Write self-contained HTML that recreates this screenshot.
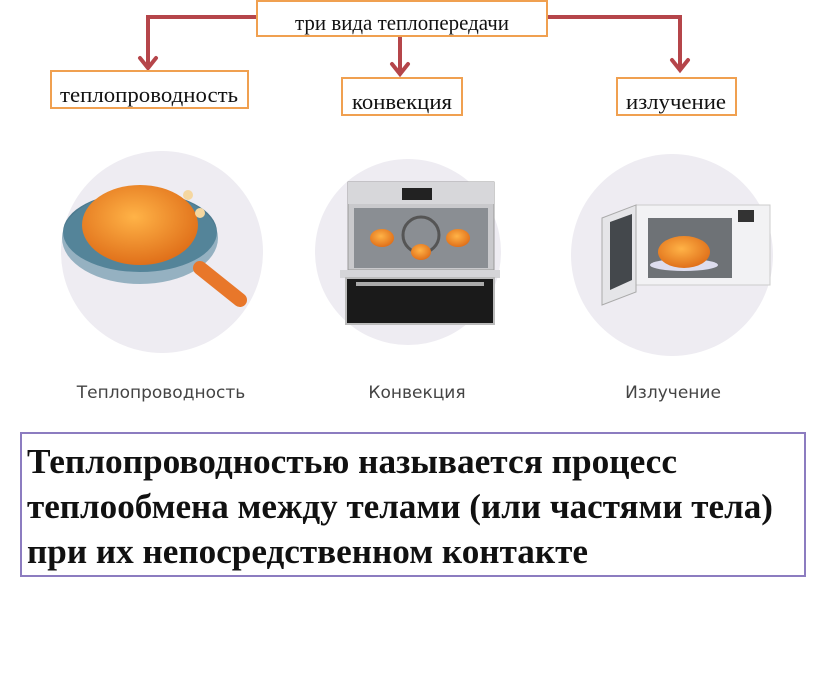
<!DOCTYPE html>
<html><head><meta charset="utf-8"><style>
html,body{margin:0;padding:0;background:#fff;}
svg{display:block;}
</style></head><body>
<svg width="816" height="683" viewBox="0 0 816 683" xmlns="http://www.w3.org/2000/svg">
<defs>
<radialGradient id="ck" cx="45%" cy="40%" r="60%"><stop offset="0" stop-color="#ffb347"/><stop offset="1" stop-color="#e0701a"/></radialGradient>
</defs>
<g stroke="#b5454a" stroke-width="4" fill="none">
<polyline points="257,17 148,17 148,68"/>
<polyline points="547,17 680,17 680,70"/>
<line x1="400" y1="35" x2="400" y2="74"/>
</g>
<g stroke="#b5454a" stroke-width="4" fill="none" stroke-linecap="round">
<polyline points="140,58 148,68 156,58"/>
<polyline points="672,60 680,70 688,60"/>
<polyline points="392,64 400,74 408,64"/>
</g>
<g fill="#fff" stroke="#f0a050" stroke-width="2">
<rect x="257" y="1" width="290" height="35"/>
<rect x="51" y="71" width="197" height="37"/>
<rect x="342" y="78" width="120" height="37"/>
<rect x="617" y="78" width="119" height="37"/>
</g>
<g font-family="Liberation Serif, serif" font-size="22" fill="#111" text-anchor="middle">
<text x="402" y="30" textLength="214" lengthAdjust="spacingAndGlyphs">три вида теплопередачи</text>
<text x="149" y="102" textLength="178" lengthAdjust="spacingAndGlyphs">теплопроводность</text>
<text x="402" y="109" textLength="100" lengthAdjust="spacingAndGlyphs">конвекция</text>
<text x="676" y="109" textLength="100" lengthAdjust="spacingAndGlyphs">излучение</text>
</g>
<circle cx="162" cy="252" r="101" fill="#eeecf2"/>
<circle cx="408" cy="252" r="93" fill="#eeecf2"/>
<circle cx="672" cy="255" r="101" fill="#eeecf2"/>
<ellipse cx="140" cy="232" rx="77" ry="40" fill="#4d7a8f"/>
<ellipse cx="140" cy="238" rx="78" ry="46" fill="#5a8aa0" opacity="0.6"/>
<line x1="200" y1="268" x2="240" y2="300" stroke="#e8772a" stroke-width="14" stroke-linecap="round"/>
<ellipse cx="140" cy="225" rx="58" ry="40" fill="url(#ck)"/>
<circle cx="188" cy="195" r="5" fill="#f5d7a0"/><circle cx="200" cy="213" r="5" fill="#f5d7a0"/>
<rect x="348" y="182" width="146" height="88" fill="#c9c9cc" stroke="#999"/>
<rect x="348" y="182" width="146" height="22" fill="#d7d7da"/>
<rect x="402" y="188" width="30" height="12" fill="#222"/>
<rect x="354" y="208" width="134" height="60" fill="#8a8e93"/>
<circle cx="421" cy="235" r="18" fill="none" stroke="#555" stroke-width="3"/>
<ellipse cx="382" cy="238" rx="12" ry="9" fill="url(#ck)"/>
<ellipse cx="458" cy="238" rx="12" ry="9" fill="url(#ck)"/>
<ellipse cx="421" cy="252" rx="10" ry="8" fill="url(#ck)"/>
<rect x="340" y="270" width="160" height="8" fill="#d5d5d8"/>
<rect x="346" y="278" width="148" height="46" fill="#1a1a1a" stroke="#bbb" stroke-width="2"/>
<rect x="356" y="282" width="128" height="4" fill="#aaa"/>
<rect x="636" y="205" width="134" height="80" fill="#f2f2f4" stroke="#ccc"/>
<rect x="648" y="218" width="84" height="60" fill="#6e7276"/>
<rect x="738" y="210" width="16" height="12" fill="#333"/>
<polygon points="602,218 636,205 636,292 602,305" fill="#e5e5e8" stroke="#aaa"/>
<polygon points="610,222 632,214 632,280 610,290" fill="#44484c"/>
<ellipse cx="684" cy="265" rx="34" ry="6" fill="#dde"/>
<ellipse cx="684" cy="252" rx="26" ry="16" fill="url(#ck)"/>
<g font-family="DejaVu Sans, Liberation Sans, sans-serif" font-size="17" fill="#444" text-anchor="middle">
<text x="161" y="398">Теплопроводность</text>
<text x="417" y="398">Конвекция</text>
<text x="673" y="398">Излучение</text>
</g>
<rect x="21" y="433" width="784" height="143" fill="#fff" stroke="#8c7cc0" stroke-width="2"/>
<g font-family="Liberation Serif, serif" font-weight="bold" font-size="35" fill="#111">
<text x="27" y="473" textLength="650" lengthAdjust="spacingAndGlyphs">Теплопроводностью называется процесс</text>
<text x="27" y="518" textLength="746" lengthAdjust="spacingAndGlyphs">теплообмена между телами (или частями тела)</text>
<text x="27" y="563" textLength="561" lengthAdjust="spacingAndGlyphs">при их непосредственном контакте</text>
</g>
</svg>
</body></html>
